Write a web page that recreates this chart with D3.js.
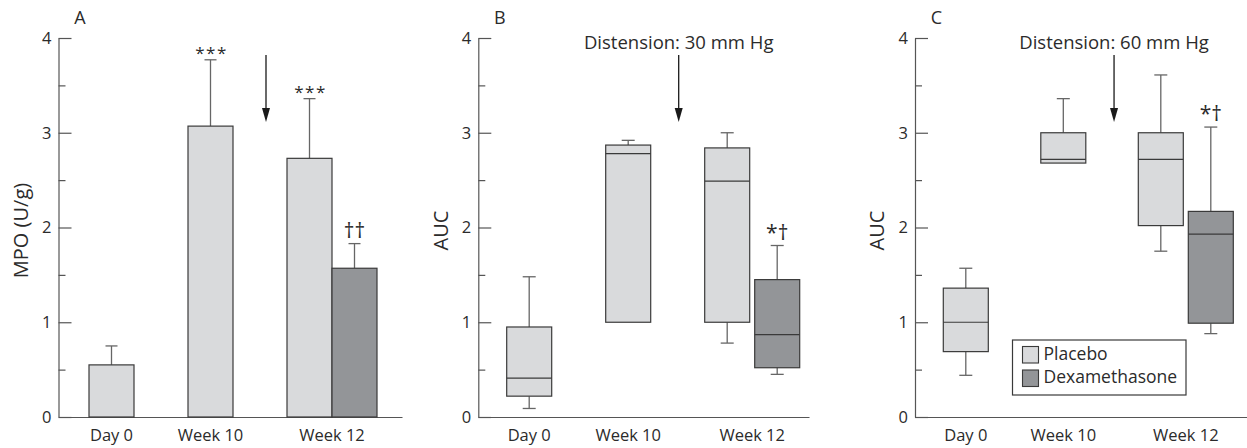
<!DOCTYPE html>
<html>
<head>
<meta charset="utf-8">
<script src="https://cdn.jsdelivr.net/npm/d3@7"></script>
<style>
  body { margin: 0; background: #fff; }
  text { font-family: "Open Sans", sans-serif; fill: #2b2b2b; }
</style>
</head>
<body>
<script>
// data
var categories = ["Day 0", "Week 10", "Week 12"];
var yTicks = [0, 1, 2, 3, 4];
var yMinorTicks = [0.5, 1.5, 2.5, 3.5];

// panel A: MPO bars with error bar tops
var mpoPlacebo = [0.55, 3.07, 2.73];
var mpoPlaceboErrTop = [0.75, 3.77, 3.36];
var mpoDexa = [null, null, 1.57];
var mpoDexaErrTop = [null, null, 1.83];
var mpoPlaceboSig = ["", "***", "***"];
var mpoDexaSig = ["", "", "††"];

// panel B: AUC at 30 mm Hg (box plots)
var b30PlaceboMin = [0.09, 1.0, 0.78];
var b30PlaceboQ1 = [0.22, 1.0, 1.0];
var b30PlaceboMed = [0.41, 2.78, 2.49];
var b30PlaceboQ3 = [0.95, 2.87, 2.84];
var b30PlaceboMax = [1.48, 2.92, 3.0];
var b30DexaMin = [null, null, 0.45];
var b30DexaQ1 = [null, null, 0.52];
var b30DexaMed = [null, null, 0.87];
var b30DexaQ3 = [null, null, 1.45];
var b30DexaMax = [null, null, 1.81];
var b30DexaSig = ["", "", "*†"];

// panel C: AUC at 60 mm Hg (box plots)
var c60PlaceboMin = [0.44, 2.68, 1.75];
var c60PlaceboQ1 = [0.69, 2.68, 2.02];
var c60PlaceboMed = [1.0, 2.72, 2.72];
var c60PlaceboQ3 = [1.36, 3.0, 3.0];
var c60PlaceboMax = [1.57, 3.36, 3.61];
var c60DexaMin = [null, null, 0.88];
var c60DexaQ1 = [null, null, 0.99];
var c60DexaMed = [null, null, 1.93];
var c60DexaQ3 = [null, null, 2.17];
var c60DexaMax = [null, null, 3.06];
var c60DexaSig = ["", "", "*†"];

var legendLabels = ["Placebo", "Dexamethasone"];

// styles
var placeboFill = "#d9dadc";
var dexaFill = "#939598";
var strokeCol = "#3a3a3a";
var whiskerCol = "#666";
var axisCol = "#555";

var width = 1247, height = 448;
var y0 = 417, y4 = 38;
var barW = 45;

var svg = d3.select("body").append("svg")
    .attr("width", width)
    .attr("height", height);

var yScale = d3.scaleLinear().domain([0, 4]).range([y0, y4]);

// panel layout
var panels = [
  { letter: "A", axisX: 58.5, axisEnd: 402, offset: 30.5, step: 99, gap: 0, yLabel: "MPO (U/g)", arrowDx: 6, note: null },
  { letter: "B", axisX: 478.3, axisEnd: 809, offset: 28.4, step: 99, gap: 5, yLabel: "AUC", arrowDx: 1, note: "Distension: 30 mm Hg" },
  { letter: "C", axisX: 915, axisEnd: 1247, offset: 28.3, step: 97.5, gap: 5, yLabel: "AUC", arrowDx: 2, note: "Distension: 60 mm Hg" }
];

function drawFrame(p) {
  var g = svg.append("g");

  var x = d3.scaleBand()
      .domain(categories)
      .range([p.axisX + p.offset, p.axisX + p.offset + 2 * p.step + barW])
      .paddingInner(1 - barW / p.step)
      .paddingOuter(0);

  // y axis, ticks point inward
  g.append("g")
      .attr("transform", `translate(${p.axisX},0)`)
      .call(d3.axisLeft(yScale).tickValues(yTicks).tickSizeInner(-13).tickSizeOuter(0).tickPadding(7).tickFormat(d3.format("d")))
      .call(s => s.selectAll("line, path").attr("stroke", axisCol).attr("stroke-width", 1.2))
      .call(s => s.selectAll("text").attr("font-size", 16.5).attr("font-family", "'Open Sans', sans-serif").attr("fill", "#2b2b2b"));
  g.append("g")
      .attr("transform", `translate(${p.axisX},0)`)
      .call(d3.axisLeft(yScale).tickValues(yMinorTicks).tickSizeInner(-7).tickSizeOuter(0).tickFormat(""))
      .call(s => s.select(".domain").remove())
      .call(s => s.selectAll("line").attr("stroke", axisCol).attr("stroke-width", 1.2));

  // x axis line
  var xl = d3.scaleLinear().domain([0, 1]).range([p.axisX, p.axisEnd]);
  g.append("g")
      .attr("transform", `translate(0,${y0})`)
      .call(d3.axisBottom(xl).tickValues([]).tickSizeOuter(0))
      .call(s => s.select(".domain").attr("stroke", axisCol).attr("stroke-width", 1.2));

  // y label
  g.append("text")
      .attr("transform", `translate(${p.axisX - 36},${(y0 + y4) / 2 + 3}) rotate(-90)`)
      .attr("text-anchor", "middle")
      .attr("dominant-baseline", "middle")
      .attr("font-size", 20)
      .text(p.yLabel);

  // panel letter
  g.append("text")
      .attr("x", p.axisX + 21.5)
      .attr("y", 24)
      .attr("text-anchor", "middle")
      .attr("font-size", 18)
      .text(p.letter);

  return { g: g, x: x };
}

function groupCenter(x, p, i, hasDexa) {
  var w = hasDexa ? 2 * barW + p.gap : barW;
  return x(categories[i]) + w / 2;
}

function drawXLabels(f, p, dexaVals) {
  f.g.selectAll(".xlab").data(categories).enter().append("text")
      .attr("x", (d, i) => groupCenter(f.x, p, i, dexaVals[i] != null))
      .attr("y", 441)
      .attr("text-anchor", "middle")
      .attr("font-size", 16.5)
      .text(d => d);
}

function drawArrow(f, p, note) {
  var ax = (f.x(categories[1]) + barW + f.x(categories[2])) / 2 + p.arrowDx;
  f.g.append("line")
      .attr("x1", ax).attr("x2", ax)
      .attr("y1", 55).attr("y2", 112)
      .attr("stroke", "#1a1a1a").attr("stroke-width", 1.3);
  f.g.append("path")
      .attr("d", `M${ax - 4},108 L${ax + 4},108 L${ax},122 Z`)
      .attr("fill", "#1a1a1a");
  if (note) {
    f.g.append("text")
        .attr("x", ax)
        .attr("y", 49)
        .attr("text-anchor", "middle")
        .attr("font-size", 18.5)
        .text(note);
  }
}

function drawSig(f, xc, top, label) {
  if (!label) return;
  var dagger = label.indexOf("†") >= 0;
  f.g.append("text")
      .attr("x", xc + (dagger ? 0 : 1))
      .attr("y", yScale(top) - (dagger ? 6 : 1))
      .attr("text-anchor", "middle")
      .attr("font-size", dagger ? 21 : 17)
      .attr("letter-spacing", dagger ? 0 : 1.5)
      .text(label);
}

// ---- panel A: bars
(function () {
  var p = panels[0];
  var f = drawFrame(p);
  var series = [
    { vals: mpoPlacebo, err: mpoPlaceboErrTop, fill: placeboFill, dx: 0, sig: mpoPlaceboSig },
    { vals: mpoDexa, err: mpoDexaErrTop, fill: dexaFill, dx: barW + p.gap, sig: mpoDexaSig }
  ];
  series.forEach(s => {
    categories.forEach((c, i) => {
      if (s.vals[i] == null) return;
      var bx = f.x(c) + s.dx;
      var cx = bx + barW / 2;
      f.g.append("line")
          .attr("x1", cx).attr("x2", cx)
          .attr("y1", yScale(s.vals[i])).attr("y2", yScale(s.err[i]))
          .attr("stroke", whiskerCol).attr("stroke-width", 1.3);
      f.g.append("line")
          .attr("x1", cx - 6).attr("x2", cx + 6)
          .attr("y1", yScale(s.err[i])).attr("y2", yScale(s.err[i]))
          .attr("stroke", whiskerCol).attr("stroke-width", 1.3);
      f.g.append("rect")
          .attr("x", bx).attr("y", yScale(s.vals[i]))
          .attr("width", barW).attr("height", y0 - yScale(s.vals[i]))
          .attr("fill", s.fill).attr("stroke", strokeCol).attr("stroke-width", 1.2);
      drawSig(f, cx, s.err[i], s.sig[i]);
    });
  });
  drawXLabels(f, p, mpoDexa);
  drawArrow(f, p, p.note);
})();

// ---- box plot panels
function drawBoxPanel(p, pl, dx) {
  var f = drawFrame(p);
  var series = [
    { s: pl, fill: placeboFill, dx: 0 },
    { s: dx, fill: dexaFill, dx: barW + p.gap }
  ];
  series.forEach(ser => {
    var s = ser.s;
    categories.forEach((c, i) => {
      if (s.med[i] == null) return;
      var bx = f.x(c) + ser.dx;
      var cx = bx + barW / 2;
      // whiskers
      [[s.q3[i], s.max[i]], [s.q1[i], s.min[i]]].forEach(w => {
        if (w[0] === w[1]) return;
        f.g.append("line")
            .attr("x1", cx).attr("x2", cx)
            .attr("y1", yScale(w[0])).attr("y2", yScale(w[1]))
            .attr("stroke", whiskerCol).attr("stroke-width", 1.3);
        f.g.append("line")
            .attr("x1", cx - 6.5).attr("x2", cx + 6.5)
            .attr("y1", yScale(w[1])).attr("y2", yScale(w[1]))
            .attr("stroke", whiskerCol).attr("stroke-width", 1.3);
      });
      f.g.append("rect")
          .attr("x", bx).attr("y", yScale(s.q3[i]))
          .attr("width", barW).attr("height", yScale(s.q1[i]) - yScale(s.q3[i]))
          .attr("fill", ser.fill).attr("stroke", strokeCol).attr("stroke-width", 1.2);
      f.g.append("line")
          .attr("x1", bx).attr("x2", bx + barW)
          .attr("y1", yScale(s.med[i])).attr("y2", yScale(s.med[i]))
          .attr("stroke", strokeCol).attr("stroke-width", 1.2);
      if (s.sig) drawSig(f, cx, s.max[i], s.sig[i]);
    });
  });
  drawXLabels(f, p, dx.med);
  drawArrow(f, p, p.note);
  return f;
}

drawBoxPanel(panels[1],
  { min: b30PlaceboMin, q1: b30PlaceboQ1, med: b30PlaceboMed, q3: b30PlaceboQ3, max: b30PlaceboMax },
  { min: b30DexaMin, q1: b30DexaQ1, med: b30DexaMed, q3: b30DexaQ3, max: b30DexaMax, sig: b30DexaSig });

drawBoxPanel(panels[2],
  { min: c60PlaceboMin, q1: c60PlaceboQ1, med: c60PlaceboMed, q3: c60PlaceboQ3, max: c60PlaceboMax },
  { min: c60DexaMin, q1: c60DexaQ1, med: c60DexaMed, q3: c60DexaQ3, max: c60DexaMax, sig: c60DexaSig });

// legend
var legend = svg.append("g").attr("transform", "translate(1012.5,340)");
legend.append("rect")
    .attr("width", 173.5).attr("height", 55)
    .attr("fill", "#fff").attr("stroke", strokeCol).attr("stroke-width", 1.2);
var li = legend.selectAll(".li").data(legendLabels).enter().append("g")
    .attr("transform", (d, i) => `translate(10,${6.5 + i * 23.5})`);
li.append("rect")
    .attr("width", 16).attr("height", 16.5)
    .attr("fill", (d, i) => i === 0 ? placeboFill : dexaFill)
    .attr("stroke", strokeCol).attr("stroke-width", 1.1);
li.append("text")
    .attr("x", 21).attr("y", 8.5)
    .attr("dominant-baseline", "middle")
    .attr("font-size", 17.5)
    .text(d => d);
</script>
</body>
</html>
